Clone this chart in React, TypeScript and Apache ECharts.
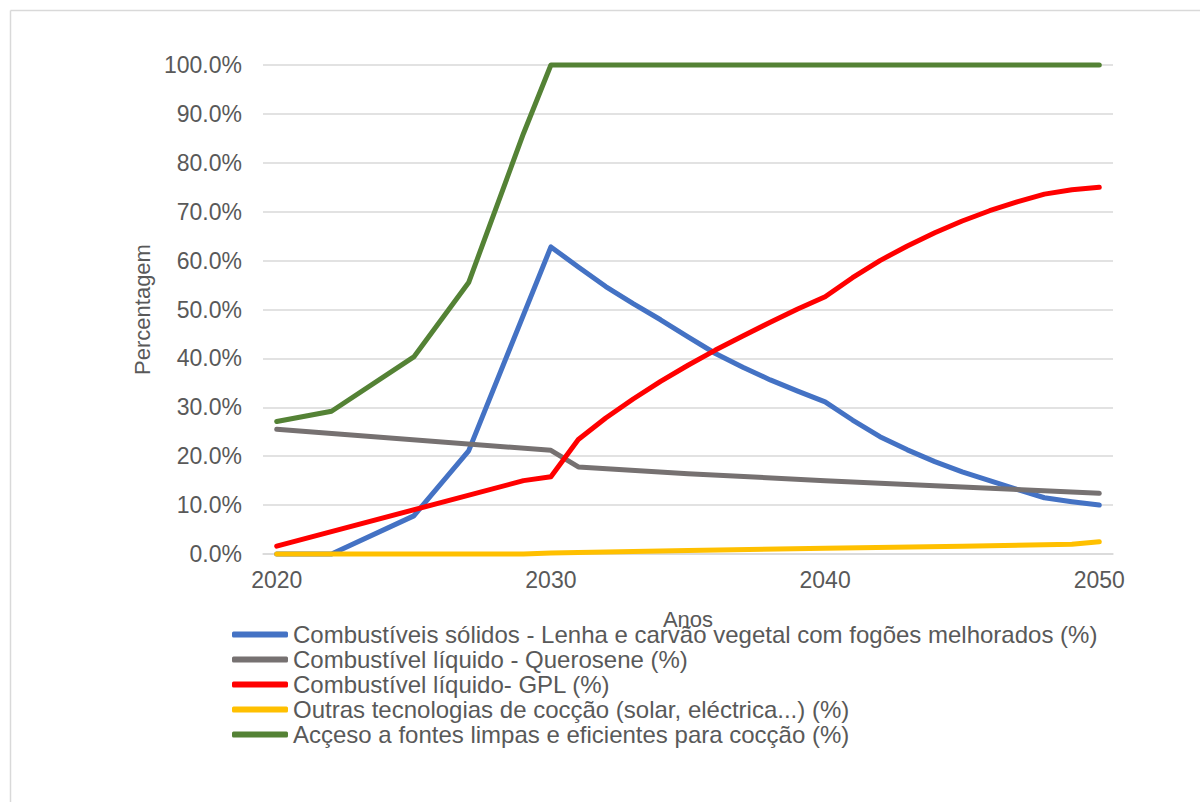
import React, { useEffect, useRef } from "react";
import * as echarts from "echarts";

const xTickValues = [2020, 2030, 2040, 2050];

const seriesNames = [
  "Combustíveis sólidos - Lenha e carvão vegetal com fogões melhorados (%)",
  "Combustível líquido - Querosene (%)",
  "Combustível líquido- GPL (%)",
  "Outras tecnologias de cocção (solar, eléctrica...) (%)",
  "Acçeso a fontes limpas e eficientes para cocção (%)",
];

const seriesColors = ["#4472C4", "#767171", "#FF0000", "#FFC000", "#548235"];

const solidYears = [2020, 2022, 2025, 2027, 2030, 2031, 2032, 2033, 2034, 2035, 2036, 2037, 2038, 2039, 2040, 2041, 2042, 2043, 2044, 2045, 2046, 2047, 2048, 2049, 2050];
const solidValues = [0, 0, 7.8, 21.1, 62.8, 58.7, 54.7, 51.2, 47.9, 44.4, 41.0, 38.2, 35.6, 33.3, 31.1, 27.4, 24.0, 21.3, 18.9, 16.8, 15.0, 13.2, 11.5, 10.7, 10.0];

const keroseneYears = [2020, 2030, 2031, 2035, 2040, 2045, 2050];
const keroseneValues = [25.5, 21.2, 17.8, 16.4, 15.0, 13.7, 12.4];

const lpgYears = [2020, 2029, 2030, 2031, 2032, 2033, 2034, 2035, 2036, 2037, 2038, 2039, 2040, 2041, 2042, 2043, 2044, 2045, 2046, 2047, 2048, 2049, 2050];
const lpgValues = [1.6, 15.0, 15.8, 23.4, 27.8, 31.7, 35.3, 38.6, 41.7, 44.6, 47.4, 50.1, 52.6, 56.5, 60.0, 63.0, 65.7, 68.1, 70.2, 72.0, 73.6, 74.5, 75.0];

const otherYears = [2020, 2029, 2030, 2035, 2040, 2045, 2049, 2050];
const otherValues = [0, 0, 0.2, 0.7, 1.2, 1.6, 2.0, 2.5];

const accessYears = [2020, 2022, 2025, 2027, 2029, 2030, 2050];
const accessValues = [27.1, 29.2, 40.3, 55.5, 86.0, 100, 100];

const allYears = [solidYears, keroseneYears, lpgYears, otherYears, accessYears];
const allValues = [solidValues, keroseneValues, lpgValues, otherValues, accessValues];

const FONT = "'Liberation Sans', Arial, sans-serif";
const TEXT_COLOR = "#595959";

export default function App() {
  const ref = useRef<HTMLDivElement>(null);

  useEffect(() => {
    if (!ref.current) return;
    const chart = echarts.init(ref.current, undefined, { renderer: "svg" });

    const series = seriesNames.map((name, i) => ({
      name,
      type: "line",
      data: allYears[i].map((y, j) => [y, allValues[i][j]]),
      showSymbol: false,
      symbol: "none",
      clip: false,
      lineStyle: { color: seriesColors[i], width: 5, cap: "round", join: "round" },
      itemStyle: { color: seriesColors[i] },
    }));

    chart.setOption({
      animation: false,
      backgroundColor: "#ffffff",
      textStyle: { fontFamily: FONT },
      graphic: [
        {
          type: "line",
          shape: { x1: 10.5, y1: 10.5, x2: 1200, y2: 10.5 },
          style: { stroke: "#d9d9d9", lineWidth: 1.5 },
          silent: true,
        },
        {
          type: "line",
          shape: { x1: 10.5, y1: 10.5, x2: 10.5, y2: 802 },
          style: { stroke: "#d9d9d9", lineWidth: 1.5 },
          silent: true,
        },
      ],
      grid: { left: 263, right: 87, top: 65, bottom: 248, containLabel: false },
      xAxis: {
        type: "value",
        min: 2019.5,
        max: 2050.5,
        name: "Anos",
        nameLocation: "middle",
        nameGap: 54,
        nameTextStyle: { color: TEXT_COLOR, fontSize: 22, fontFamily: FONT },
        axisLine: { show: true, lineStyle: { color: "#d9d9d9", width: 1.5 } },
        axisTick: { show: false },
        splitLine: { show: false },
        axisLabel: {
          customValues: xTickValues,
          color: TEXT_COLOR,
          fontSize: 23,
          fontFamily: FONT,
          margin: 14,
          formatter: (v: number) => String(v),
        },
      },
      yAxis: {
        type: "value",
        min: 0,
        max: 100,
        interval: 10,
        name: "Percentagem",
        nameLocation: "middle",
        nameGap: 110,
        nameRotate: 90,
        nameTextStyle: { color: TEXT_COLOR, fontSize: 22, fontFamily: FONT },
        axisLine: { show: false },
        axisTick: { show: false },
        splitLine: { show: true, lineStyle: { color: "#d9d9d9", width: 1.5 } },
        axisLabel: {
          color: TEXT_COLOR,
          fontSize: 23,
          fontFamily: FONT,
          margin: 21,
          formatter: (v: number) => v.toFixed(1) + "%",
        },
      },
      legend: {
        orient: "vertical",
        left: 232,
        top: 622,
        padding: 0,
        itemGap: 0,
        itemWidth: 56,
        itemHeight: 6,
        icon: "roundRect",
        textStyle: { color: TEXT_COLOR, fontSize: 24, fontFamily: FONT, lineHeight: 25 },
        data: seriesNames.map((n, i) => ({ name: n, itemStyle: { color: seriesColors[i] } })),
      },
      series,
    });

    return () => chart.dispose();
  }, []);

  return (
    <div
      ref={ref}
      style={{ position: "absolute", left: 0, top: 0, width: 1200, height: 802, background: "#fff" }}
    />
  );
}
